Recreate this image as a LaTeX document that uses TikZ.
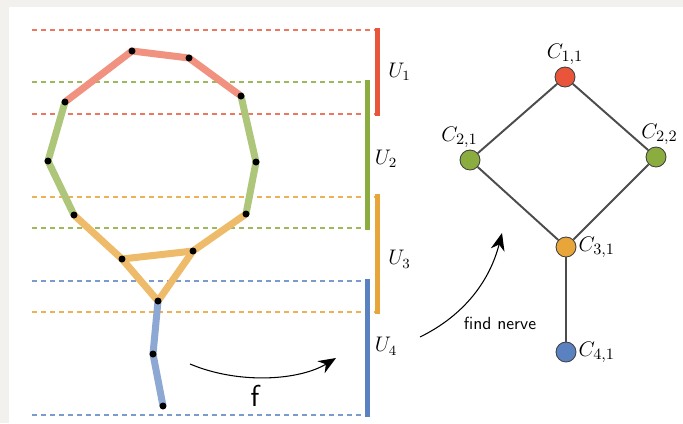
\documentclass[tikz,border=0pt]{standalone}
\usepackage{amsmath,amssymb}
\usepackage{tikz}
\usetikzlibrary{arrows.meta,positioning,calc}

\definecolor{cred}{HTML}{E9553A}
\definecolor{cgreen}{HTML}{8BAD3F}
\definecolor{corange}{HTML}{E8A53A}
\definecolor{cblue}{HTML}{5B82C0}
\definecolor{frame}{HTML}{F2F1EE}

\begin{document}
\begin{tikzpicture}[
    x=0.02cm, y=-0.02cm,
    seg/.style={line width=7*0.02cm, line cap=butt},
    bar/.style={line width=5*0.02cm},
    cut/.style={dashed, dash pattern=on 5*0.02cm off 4*0.02cm, line width=0.6pt},
    dot/.style={circle, fill=black, inner sep=0pt, minimum size=7*0.02cm},
    vtx/.style={circle, draw=black!75, line width=0.5pt, minimum size=20*0.02cm, inner sep=0pt},
    lnk/.style={draw=black!70, line width=1.1pt},
    arr/.style={-{Stealth[length=10pt, width=8pt]}, line width=0.6pt},
    lbl/.style={font=\large, text=black, inner sep=1pt},
    clbl/.style={font=\fontsize{13}{15}\selectfont, text=black, inner sep=1pt}
]
% background and frame
\fill[frame] (0,0) rectangle (683,423);
\fill[white] (9,7) rectangle (683,423);
\useasboundingbox (0,0) rectangle (683,423);

% points of the curve
\coordinate (p1) at (132,51);
\coordinate (p2) at (189,58);
\coordinate (p3) at (241,96);
\coordinate (p4) at (256,162);
\coordinate (p5) at (246,214);
\coordinate (p6) at (193,251);
\coordinate (p7) at (122,259);
\coordinate (p8) at (74,215);
\coordinate (p9) at (48,161);
\coordinate (p10) at (65,102);
\coordinate (p11) at (158,301);
\coordinate (p12) at (153,354);
\coordinate (p13) at (163,406);

% cover bars
\coordinate (u1t) at (377,28);  \coordinate (u1b) at (377,116);
\coordinate (u2t) at (367,80);  \coordinate (u2b) at (367,230);
\coordinate (u3t) at (377,194); \coordinate (u3b) at (377,314);
\coordinate (u4t) at (367,279); \coordinate (u4b) at (367,417);

\draw[cut, cred!80] (32,30) -- (u1t|-0,30);
\draw[cut, cred!80] (32,114) -- (u1b|-0,114);
\draw[cut, cgreen!85] (32,82) -- (u2t|-0,82);
\draw[cut, cgreen!85] (32,228) -- (u2b|-0,228);
\draw[cut, corange!85] (32,197) -- (u3t|-0,197);
\draw[cut, corange!85] (32,312) -- (u3b|-0,312);
\draw[cut, cblue!80] (32,281) -- (u4t|-0,281);
\draw[cut, cblue!80] (32,415) -- (u4b|-0,415);

\draw[bar, cred] (u1t) -- (u1b) node[lbl, midway, right=4pt] (U1) {$U_1$};
\draw[bar, cgreen] (u2t) -- (u2b) node[lbl, midway, right=2pt, yshift=-2pt] (U2) {$U_2$};
\draw[bar, corange] (u3t) -- (u3b) node[lbl, midway, right=4pt, yshift=-3pt] (U3) {$U_3$};
\draw[bar, cblue] (u4t) -- (u4b) node[lbl, midway, right=2pt, yshift=1pt] (U4) {$U_4$};

% graph pieces
\draw[seg, cred!65!white] (p10) -- (p1) -- (p2) -- (p3);
\draw[seg, cgreen!70!white] (p3) -- (p4) -- (p5);
\draw[seg, cgreen!70!white] (p10) -- (p9) -- (p8);
\draw[seg, corange!75!white] (p8) -- (p7) -- (p6) -- (p5);
\draw[seg, corange!75!white] (p7) -- (p11) -- (p6);
\draw[seg, cblue!70!white] (p11) -- (p12) -- (p13);
\foreach \i in {1,...,13}
    \node[dot] (d\i) at (p\i) {};

% map f
\node[font=\sffamily\LARGE] (f) at (255,396) {f};
\coordinate (fs) at (190,364);
\coordinate (fe) at (336,358);
\draw[arr] (fs) .. controls (240,385) and (300,380) .. (fe);

% nerve
\node[vtx, fill=cred, label={[clbl]above:$C_{1,1}$}] (c11) at (565,77) {};
\node[vtx, fill=cgreen, label={[clbl, xshift=-6pt]above:$C_{2,1}$}] (c21) at (470,160) {};
\node[vtx, fill=cgreen, label={[clbl, xshift=2pt]above:$C_{2,2}$}] (c22) at (656,157) {};
\node[vtx, fill=corange, label={[clbl]right:$C_{3,1}$}] (c31) at (566,247) {};
\node[vtx, fill=cblue, label={[clbl]right:$C_{4,1}$}] (c41) at (566,352) {};

\draw[lnk] (c11) -- (c21);
\draw[lnk] (c11) -- (c22);
\draw[lnk] (c21) -- (c31);
\draw[lnk] (c22) -- (c31);
\draw[lnk] (c31) -- (c41);

\coordinate (ns) at (420,337);
\coordinate (ne) at (502,233);
\draw[arr] (ns) .. controls (465,315) and (490,280) .. (ne);
\node[font=\sffamily\normalsize] (fn) at (500,323) {find nerve};
\end{tikzpicture}
\end{document}
